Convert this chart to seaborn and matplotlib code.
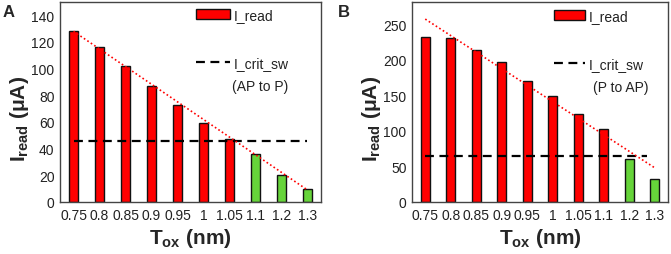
import matplotlib
matplotlib.use("Agg")
import matplotlib.pyplot as plt
import seaborn as sns
import pandas as pd
from matplotlib.patches import Patch
from matplotlib.lines import Line2D

# ---------------- data ----------------
tox_labels = ["0.75", "0.8", "0.85", "0.9", "0.95", "1", "1.05", "1.1", "1.2", "1.3"]

iread_a = [128, 116, 102, 87, 73, 59, 47, 36, 20, 10]
crit_a = 45.5
trend_a = [128, 9]
fail_a = [False, False, False, False, False, False, False, True, True, True]
note_a = "(AP to P)"

iread_b = [232, 230, 214, 197, 170, 149, 123, 102, 61, 33]
crit_b = 64
trend_b = [257, 48]
fail_b = [False, False, False, False, False, False, False, False, True, True]
note_b = "(P to AP)"

RED = "#FF0000"
GREEN = "#66D43A"

sns.set_theme(style="white")
plt.rcParams["font.family"] = ["Liberation Sans", "DejaVu Sans"]
plt.rcParams["mathtext.fontset"] = "custom"
plt.rcParams["mathtext.rm"] = "Liberation Sans"
plt.rcParams["mathtext.bf"] = "Liberation Sans:bold"
plt.rcParams["mathtext.it"] = "Liberation Sans:italic"

fig = plt.figure(figsize=(6.71, 2.55), dpi=100)
W, H = 671, 255
axA = fig.add_axes([60 / W, 1 - 203 / H, 261 / W, 200 / H])
axB = fig.add_axes([412 / W, 1 - 203 / H, 256 / W, 200 / H])


def panel(ax, vals, crit, trend, fail, note, ylim, yticks, crit_end, leg_anchor, note_xy, hl, ylab_x):
    df = pd.DataFrame({"tox": tox_labels, "iread": vals,
                       "state": ["fail" if f else "ok" for f in fail]})
    sns.barplot(data=df, x="tox", y="iread", hue="state", order=tox_labels,
                palette={"ok": RED, "fail": GREEN}, width=0.35, dodge=False, saturation=1,
                edgecolor="#111111", linewidth=1.0, legend=False, ax=ax)
    n = len(tox_labels)
    ax.hlines(crit, 0, crit_end, colors="black", linestyles=(0, (4, 2.5)), linewidth=1.6, zorder=4)
    ax.plot([0, n - 1], trend, color=RED, linestyle=(0, (1, 1.5)), linewidth=1.2, zorder=5)
    ax.set_xlim(-0.52, n - 0.48)
    ax.set_ylim(*ylim)
    ax.set_yticks(yticks)
    ax.tick_params(axis="both", length=0, labelsize=10, colors="#222222")
    ax.tick_params(axis="x", pad=4)
    ax.tick_params(axis="y", pad=4)
    for s in ax.spines.values():
        s.set_color("#444444")
        s.set_linewidth(1.0)
    ax.set_xlabel(r"$\mathbf{T_{ox}}$ (nm)", fontsize=15, fontweight="bold", labelpad=3)
    ax.set_ylabel(r"$\mathbf{I_{read}}$ (μA)", fontsize=15, fontweight="bold")
    ax.yaxis.set_label_coords(ylab_x, 0.42)
    handles = [Patch(facecolor=RED, edgecolor="#111111", linewidth=1.0),
               Line2D([0], [0], color="black", linestyle=(0, (4, 2.5)), linewidth=1.6)]
    ax.legend(handles, ["I_read", "I_crit_sw"], frameon=False, loc="upper left",
              bbox_to_anchor=leg_anchor, borderpad=0, borderaxespad=0,
              handlelength=hl, handleheight=0.65, handletextpad=0.25,
              labelspacing=2.45, fontsize=10, labelcolor="#222222")
    ax.text(note_xy[0], note_xy[1], note, transform=ax.transAxes, ha="right", va="center",
            fontsize=10, color="#222222")


panel(axA, iread_a, crit_a, trend_a, fail_a, note_a, (0, 150), range(0, 141, 20), 9.0,
      (0.52, 0.97), (0.875, 0.58), 2.5, -0.112)
panel(axB, iread_b, crit_b, trend_b, fail_b, note_b, (0, 281), range(0, 251, 50), 8.7,
      (0.556, 0.965), (0.925, 0.575), 2.2, -0.115)

fig.text(3 / W, 1 - 12.5 / H, "A", fontsize=12, fontweight="bold", va="center", ha="left")
fig.text(338 / W, 1 - 12.5 / H, "B", fontsize=12, fontweight="bold", va="center", ha="left")

fig.savefig("out.png", dpi=100)
